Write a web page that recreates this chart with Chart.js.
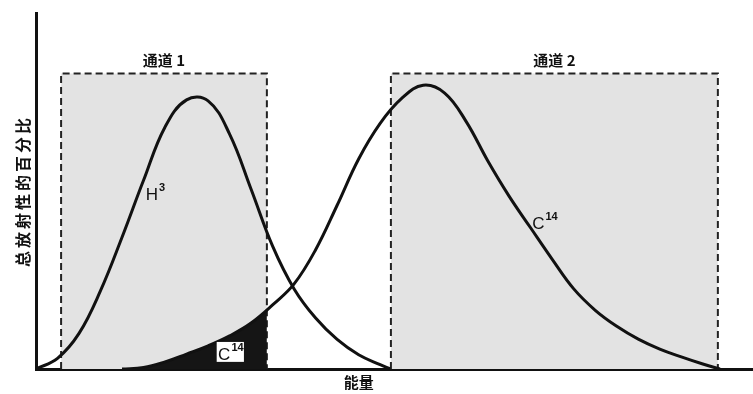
<!DOCTYPE html>
<html lang="zh">
<head>
  <meta charset="UTF-8">
  <title>能量谱 通道 1 / 通道 2</title>
  <script src="https://cdn.jsdelivr.net/npm/chart.js"></script>
  <style>
    body {
      margin: 0;
      background: #fff;
    }
    #wrap {
      width: 753px;
      height: 394px;
      position: relative;
    }
  </style>
</head>
<body>
<div id="wrap">
  <canvas id="specChart"></canvas>
</div>

<script>
  // energy axis runs 0..100 (arbitrary units), y is % of total activity
  const h3Energy = [0, 3, 6, 9, 12, 15, 18, 21, 24, 27, 30, 33, 36, 39, 42, 45, 48, 49.4];
  const h3Value  = [0, 3.0, 10, 22, 37, 53, 68, 75.6, 75.3, 66, 50.5, 34.5, 22.5, 14.3, 8.3, 4.0, 1.2, 0];

  const c14Energy = [12, 15, 18, 21, 24, 27, 30, 33, 36, 39, 42, 45, 48, 51, 54, 57, 60, 63, 66, 69, 72, 75, 78, 81, 84, 87, 90, 93, 95.4];
  const c14Value  = [0, 0.4, 2.0, 4.2, 6.5, 9.3, 12.9, 18, 23.9, 33.5, 46, 59, 69, 76, 79.7, 77.5, 69.5, 58.5, 48.5, 39.6, 30.8, 22.5, 16.5, 12, 8.4, 5.6, 3.4, 1.4, 0];

  // counting windows (energy from / to) and their height
  const channelNames = ['通道 1', '通道 2'];
  const channelFrom  = [3.5, 49.5];
  const channelTo    = [32.2, 95.1];
  const channelTop   = 83;
  const c14AtCh1Edge = 16.6;   // C14 height where channel 1 ends

  const pts = (xs, ys) => xs.map((x, i) => ({ x: x, y: ys[i] }));

  // the dark area = C14 counts falling inside channel 1
  const c14InCh1 = pts(c14Energy, c14Value)
    .filter(p => p.x < channelTo[0])
    .concat([{ x: channelTo[0], y: c14AtCh1Edge }]);

  const boxSets = channelNames.map((name, i) => ({
    label: name,
    data: [
      { x: channelFrom[i], y: 0 },
      { x: channelFrom[i], y: channelTop },
      { x: channelTo[i], y: channelTop },
      { x: channelTo[i], y: 0 }
    ],
    borderColor: '#222',
    borderWidth: 2,
    borderDash: [7, 4],
    backgroundColor: '#e3e3e3',
    fill: 'origin',
    tension: 0,
    pointRadius: 0,
    order: 3
  }));

  const labelPlugin = {
    id: 'labels',
    afterDatasetsDraw(chart) {
      const { ctx, scales: { x, y } } = chart;
      const px = v => x.getPixelForValue(v);
      const py = v => y.getPixelForValue(v);
      ctx.save();
      ctx.fillStyle = '#111';
      ctx.textBaseline = 'alphabetic';

      // channel titles
      ctx.font = 'bold 15px "Noto Sans CJK SC"';
      ctx.textAlign = 'center';
      channelNames.forEach((n, i) => {
        ctx.fillText(n, px((channelFrom[i] + channelTo[i]) / 2), py(channelTop) - 8);
      });

      // isotope labels
      const iso = (base, sup, xv, yv) => {
        ctx.textAlign = 'left';
        ctx.font = '17px "Liberation Sans"';
        ctx.fillText(base, px(xv), py(yv));
        const w = ctx.measureText(base).width;
        ctx.font = 'bold 11px "Liberation Sans"';
        ctx.fillText(sup, px(xv) + w + 1, py(yv) - 9);
      };
      iso('H', '3', 15.3, 47.5);
      iso('C', '14', 69.2, 39.2);

      // white tag in the dark overlap area
      ctx.fillStyle = '#fff';
      ctx.fillRect(px(25.2), py(7.6), px(29.0) - px(25.2), py(2.0) - py(7.6));
      ctx.fillStyle = '#111';
      iso('C', '14', 25.4, 2.5);

      // axis titles
      ctx.font = 'bold 15px "Noto Sans CJK SC"';
      ctx.textAlign = 'center';
      ctx.fillText('能量', px(45), y.bottom + 19);

      ctx.translate(x.left - 13, (y.top + y.bottom) / 2);
      ctx.rotate(-Math.PI / 2);
      ctx.letterSpacing = '3px';
      ctx.font = 'bold 16px "Noto Sans CJK SC"';
      ctx.textBaseline = 'middle';
      ctx.fillText('总放射性的百分比', 0, 0);
      ctx.restore();
    }
  };

  new Chart(document.getElementById('specChart'), {
    type: 'line',
    data: {
      datasets: [
        {
          label: 'H3',
          data: pts(h3Energy, h3Value),
          borderColor: '#111',
          borderWidth: 3,
          tension: 0.4,
          pointRadius: 0,
          fill: false,
          order: 0
        },
        {
          label: 'C14',
          data: pts(c14Energy, c14Value),
          borderColor: '#111',
          borderWidth: 3,
          tension: 0.4,
          pointRadius: 0,
          fill: false,
          order: 0
        },
        {
          label: 'C14 in 通道 1',
          data: c14InCh1,
          borderWidth: 0,
          backgroundColor: '#151515',
          tension: 0.4,
          pointRadius: 0,
          fill: 'origin',
          order: 1
        },
        ...boxSets
      ]
    },
    options: {
      responsive: true,
      maintainAspectRatio: false,
      animation: false,
      layout: { padding: { left: 28, top: 13, right: 0, bottom: 17 } },
      plugins: {
        legend: { display: false },
        tooltip: { enabled: false }
      },
      scales: {
        x: {
          type: 'linear',
          min: 0,
          max: 100,
          grid: { display: false },
          ticks: { display: false },
          border: { display: true, color: '#111', width: 3 }
        },
        y: {
          min: 0,
          max: 100,
          grid: { display: false },
          ticks: { display: false },
          border: { display: true, color: '#111', width: 3 }
        }
      }
    },
    plugins: [labelPlugin]
  });
</script>
</body>
</html>
